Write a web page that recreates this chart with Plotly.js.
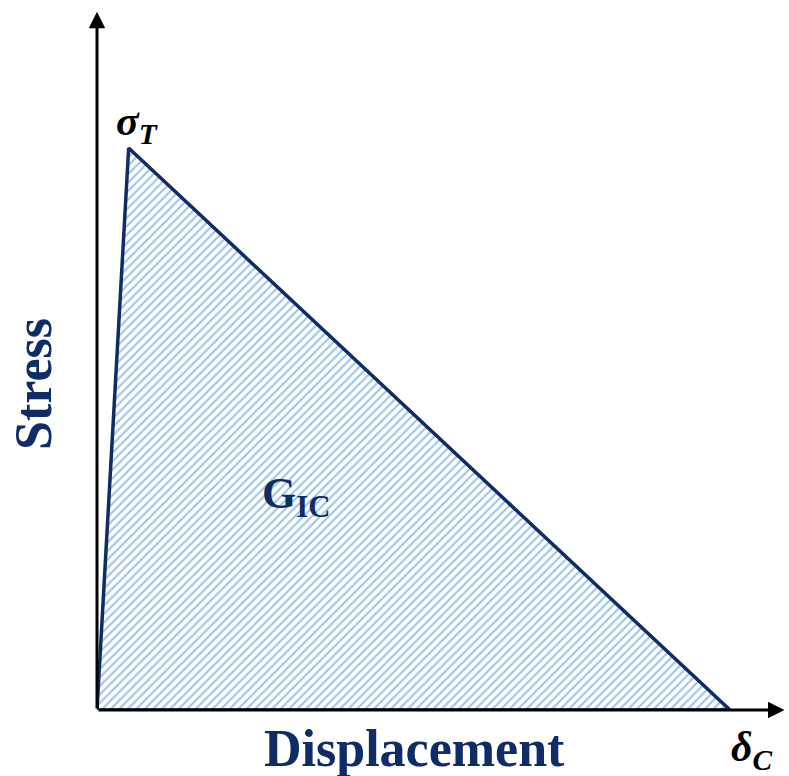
<!DOCTYPE html>
<html>
<head>
<meta charset="utf-8">
<script src="https://cdn.plot.ly/plotly-3.0.1.min.js"></script>
<style>html,body{margin:0;padding:0;background:#fff;}#chart{width:789px;height:776px;}</style>
</head>
<body>
<div id="chart"></div>
<script>
// Traction-separation law (bilinear cohesive law), normalised units
var displacement = [0, 0.05, 1.0, 0];
var stress = [0, 1.0, 0, 0];
var pointLabels = ['σ<sub>T</sub>', 'δ<sub>C</sub>'];
var areaLabel = 'G<sub>IC</sub>';
var xTitle = 'Displacement';
var yTitle = 'Stress';

var navy = '#0f2c66';
var serif = '"Liberation Serif", "Times New Roman", serif';

var xMax = 1.09, yMax = 1.2456;

var trace = {
  x: displacement, y: stress,
  type: 'scatter', mode: 'lines',
  fill: 'toself',
  fillcolor: 'rgba(0,0,0,0)',
  fillpattern: {shape: '/', fgcolor: '#9ec3e8', bgcolor: '#ffffff', size: 6, solidity: 0.35},
  line: {color: navy, width: 3.5},
  hoverinfo: 'skip'
};

var layout = {
  width: 789, height: 776,
  margin: {l: 97, r: 2, t: 10, b: 66},
  paper_bgcolor: '#ffffff', plot_bgcolor: '#ffffff',
  showlegend: false,
  xaxis: {range: [0, xMax], visible: false, fixedrange: true},
  yaxis: {range: [0, yMax], visible: false, fixedrange: true},
  annotations: [
    // axes arrows
    {x: xMax - 0.004, y: 0, ax: 0, ay: 0, axref: 'x', ayref: 'y', xref: 'x', yref: 'y',
     text: '', showarrow: true, arrowhead: 2, arrowsize: 1.1, arrowwidth: 3, arrowcolor: '#000'},
    {x: 0, y: yMax - 0.003, ax: 0, ay: 0, axref: 'x', ayref: 'y', xref: 'x', yref: 'y',
     text: '', showarrow: true, arrowhead: 2, arrowsize: 1.1, arrowwidth: 3, arrowcolor: '#000'},
    // axis titles
    {x: 0.5, y: 0, xref: 'paper', yref: 'paper', yshift: -38, xshift: -28, text: '<b>' + xTitle + '</b>',
     showarrow: false, font: {family: serif, size: 52, color: navy}, xanchor: 'center', yanchor: 'middle'},
    {x: 0, y: 0.5, xref: 'paper', yref: 'paper', xshift: -64, yshift: -24, text: '<b>' + yTitle + '</b>', textangle: -90,
     showarrow: false, font: {family: serif, size: 52, color: navy}, xanchor: 'center', yanchor: 'middle'},
    // point labels
    {x: displacement[1], y: stress[1], xref: 'x', yref: 'y', xshift: 8, yshift: 24,
     text: '<b><i>' + pointLabels[0] + '</i></b>', showarrow: false,
     font: {family: serif, size: 42, color: '#000'}, xanchor: 'center', yanchor: 'middle'},
    {x: displacement[2], y: stress[2], xref: 'x', yref: 'y', xshift: 22, yshift: -40,
     text: '<b><i>' + pointLabels[1] + '</i></b>', showarrow: false,
     font: {family: serif, size: 42, color: '#000'}, xanchor: 'center', yanchor: 'middle'},
    // area label
    {x: 0.32, y: 0.38, xref: 'x', yref: 'y', xshift: -4,
     text: '<b>' + areaLabel + '</b>', showarrow: false,
     font: {family: serif, size: 44, color: navy}, xanchor: 'center', yanchor: 'middle'}
  ]
};

Plotly.newPlot('chart', [trace], layout, {displayModeBar: false, staticPlot: true});
</script>
</body>
</html>
